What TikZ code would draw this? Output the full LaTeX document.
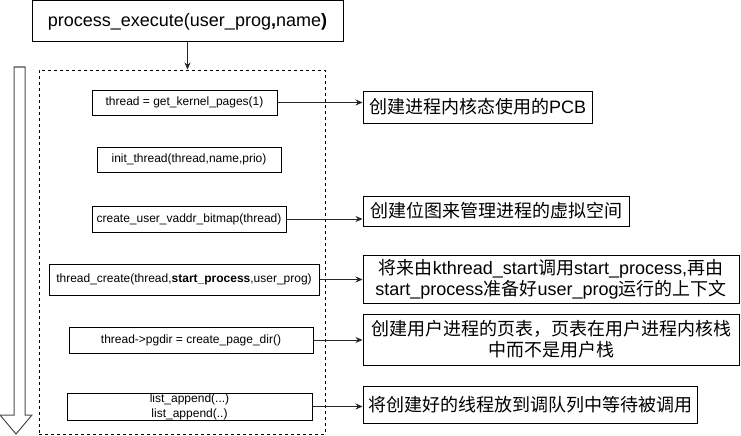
\documentclass[tikz,border=0pt]{standalone}
\usepackage{fontspec}
\usepackage{tikz}
\usetikzlibrary{arrows.meta, positioning, calc}
\setmainfont{Liberation Sans}
\newfontfamily\cjk{Noto Sans CJK SC}

\begin{document}
\begin{tikzpicture}[
    x=1pt, y=-1pt,
    line width=1pt,
    every node/.style={draw, rectangle, inner sep=0pt, align=center},
    codebox/.style={font=\fontsize{12}{13}\selectfont},
    notebox/.style={font=\fontsize{18}{21}\selectfont},
    link/.style={-{Stealth[length=7pt,width=6pt]}, draw=black!85}
]
\useasboundingbox (0,0) rectangle (741,436);

\node[font=\fontsize{18}{22}\selectfont, minimum width=311pt, minimum height=41pt] (top) at (187.5,21.5) {process\_execute(user\_prog\textbf{,}name\textbf{)}};
\node[dashed, dash pattern=on 3pt off 3pt, minimum width=286pt, minimum height=364pt] (body) at (182,252) {};

% left column: calls
\node[codebox, minimum width=185pt, minimum height=25pt] (kpage) at (184.5,102.5) {thread = get\_kernel\_pages(1)};
\node[codebox, minimum width=184pt, minimum height=25pt] (initth) at (189,159.5) {init\_thread(thread,name,prio)};
\node[codebox, minimum width=194pt, minimum height=26pt] (bitmap) at (189,219) {create\_user\_vaddr\_bitmap(thread)};
\node[codebox, minimum width=270pt, minimum height=31pt] (thcreate) at (184,279.5) {thread\_create(thread,\textbf{start\_process},user\_prog)};
\node[codebox, minimum width=244pt, minimum height=26pt] (pgdir) at (191,340) {thread->pgdir = create\_page\_dir()};
\node[codebox, minimum width=245pt, minimum height=27pt] (lappend) at (189.5,406.5) {list\_append(...)\\[2pt]list\_append(..)};

% right column: notes
\node[notebox, minimum width=229pt, minimum height=32pt] (nPCB) at (477.5,107) {{\cjk 创建进程内核态使用的}PCB};
\node[notebox, minimum width=266pt, minimum height=30pt] (nBitmap) at (496,211) {{\cjk 创建位图来管理进程的虚拟空间}};
\node[notebox, minimum width=376pt, minimum height=48pt] (nCreate) at (551,279) {{\cjk 将来由}kthread\_start{\cjk 调用}start\_process,{\cjk 再由}\\start\_process{\cjk 准备好}user\_prog{\cjk 运行的上下文}};
\node[notebox, minimum width=376pt, minimum height=51pt] (nPgdir) at (551,339.5) {{\cjk 创建用户进程的页表，页表在用户进程内核栈}\\{\cjk 中而不是用户栈}};
\node[notebox, minimum width=334pt, minimum height=37pt] (nQueue) at (530,404.5) {{\cjk 将创建好的线程放到调队列中等待被调用}};

\draw[link] (top) -- (top.south |- body.north);
\draw[link] (kpage.east) -- (kpage.east -| nPCB.west);
\draw[link] (bitmap.east) -- (bitmap.east -| nBitmap.west);
\draw[link] (thcreate.east) -- (thcreate.east -| nCreate.west);
\draw[link] (pgdir.east) -- (pgdir.east -| nPgdir.west);
\draw[link] (lappend.east) -- (lappend.east -| nQueue.west);

% hollow arrow on the left
\draw[black!70] (14,67) -- (25,67) -- (25,415) -- (32,415) -- (16,434) -- (0,415) -- (14,415) -- cycle;
\end{tikzpicture}
\end{document}
